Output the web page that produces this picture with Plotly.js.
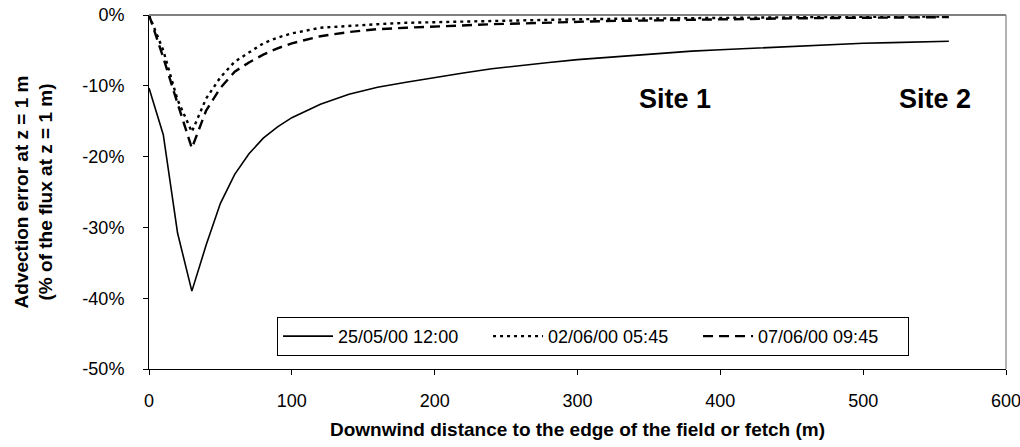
<!DOCTYPE html>
<html>
<head>
<meta charset="utf-8">
<script src="https://cdn.plot.ly/plotly-3.0.1.min.js"></script>
<style>html,body{margin:0;padding:0;background:#fff;}#chart{width:1020px;height:447px;}</style>
</head>
<body>
<div id="chart"></div>
<script>
// Downwind distance (m)
const distance = [0,10,20,30,40,50,60,70,80,90,100,120,140,160,180,200,220,240,260,280,300,320,340,360,380,400,420,440,460,480,500,520,540,560];
// Advection error (%)
const series1Name = "25/05/00 12:00";
const series1 = [-10.3,-16.9,-30.8,-39.0,-32.5,-26.6,-22.5,-19.6,-17.4,-15.8,-14.5,-12.6,-11.2,-10.2,-9.5,-8.8,-8.2,-7.6,-7.1,-6.7,-6.3,-6.0,-5.6,-5.3,-5.1,-4.9,-4.7,-4.5,-4.3,-4.1,-4.0,-3.9,-3.8,-3.7];
const series2Name = "02/06/00 05:45";
const series2 = [0,-5.0,-12.0,-16.5,-11.8,-8.8,-6.6,-5.3,-4.0,-3.2,-2.6,-1.8,-1.5,-1.3,-1.1,-1.0,-0.9,-0.8,-0.7,-0.65,-0.6,-0.55,-0.5,-0.45,-0.42,-0.4,-0.37,-0.34,-0.31,-0.28,-0.26,-0.24,-0.22,-0.2];
const series3Name = "07/06/00 09:45";
const series3 = [0,-6.0,-12.5,-18.8,-13.5,-10.3,-8.0,-6.7,-5.6,-4.7,-4.0,-3.0,-2.4,-2.0,-1.8,-1.6,-1.45,-1.3,-1.2,-1.05,-0.95,-0.85,-0.8,-0.72,-0.65,-0.6,-0.55,-0.5,-0.45,-0.42,-0.38,-0.35,-0.32,-0.3];
const yTickVals = [0,-10,-20,-30,-40,-50];
const yTickText = ["0%","-10%","-20%","-30%","-40%","-50%"];
const xTickVals = [0,100,200,300,400,500,600];
const siteLabels = ["Site 1","Site 2"];
const siteX = [368,550];
const siteY = -11.8;

const font = "Liberation Sans, Arial, sans-serif";
const traces = [
  {x: distance, y: series1, name: series1Name, mode: "lines", line: {color: "#000", width: 1.6, dash: "solid"}},
  {x: distance, y: series2, name: series2Name, mode: "lines", line: {color: "#000", width: 2.4, dash: "3px,4px"}},
  {x: distance, y: series3, name: series3Name, mode: "lines", line: {color: "#000", width: 2.4, dash: "10px,6px"}}
];
const layout = {
  width: 1020, height: 447,
  margin: {l: 149, r: 14, t: 15, b: 78, pad: 0},
  paper_bgcolor: "#fff", plot_bgcolor: "#fff",
  font: {family: font, size: 18, color: "#000"},
  showlegend: true,
  legend: {
    orientation: "h", x: 0.1494, y: 0.147, xanchor: "left", yanchor: "top",
    bordercolor: "#000", borderwidth: 1, bgcolor: "#fff",
    font: {family: font, size: 18, color: "#000"},
    entrywidth: 145, entrywidthmode: "pixels", itemwidth: 50,
    tracegroupgap: 0
  },
  xaxis: {
    range: [0, 600], tickvals: xTickVals, ticks: "outside", ticklen: 5, tickcolor: "#000",
    showline: true, linecolor: "#000", linewidth: 1, showgrid: false, zeroline: false,
    ticklabelstandoff: 10, ticklabeloverflow: "allow",
    tickfont: {family: font, size: 18, color: "#000"},
    title: {text: "Downwind distance to the edge of the field or fetch (m)", font: {family: font, size: 19, color: "#000", weight: "bold"}, standoff: 13}
  },
  yaxis: {
    range: [-50, 0], tickvals: yTickVals, ticktext: yTickText, ticks: "outside", ticklen: 5, tickcolor: "#000",
    showline: true, linecolor: "#000", linewidth: 1, showgrid: false, zeroline: false,
    ticklabelstandoff: 15,
    tickfont: {family: font, size: 18, color: "#000"},
    title: {text: "Advection error at z = 1 m<br>(% of the flux at z = 1 m)", font: {family: font, size: 19, color: "#000", weight: "bold"}, standoff: 24}
  },
  shapes: [
    {type: "line", xref: "paper", yref: "paper", x0: 0, x1: 1, y0: 1, y1: 1, line: {color: "#808080", width: 2}},
    {type: "line", xref: "paper", yref: "paper", x0: 1, x1: 1, y0: 0, y1: 1, line: {color: "#808080", width: 1.2}}
  ],
  annotations: siteLabels.map((t, i) => ({
    x: siteX[i], y: siteY, xref: "x", yref: "y", text: t, showarrow: false,
    font: {family: font, size: 27, color: "#000", weight: "bold"}
  }))
};
Plotly.newPlot("chart", traces, layout, {displayModeBar: false, staticPlot: true});
</script>
</body>
</html>
